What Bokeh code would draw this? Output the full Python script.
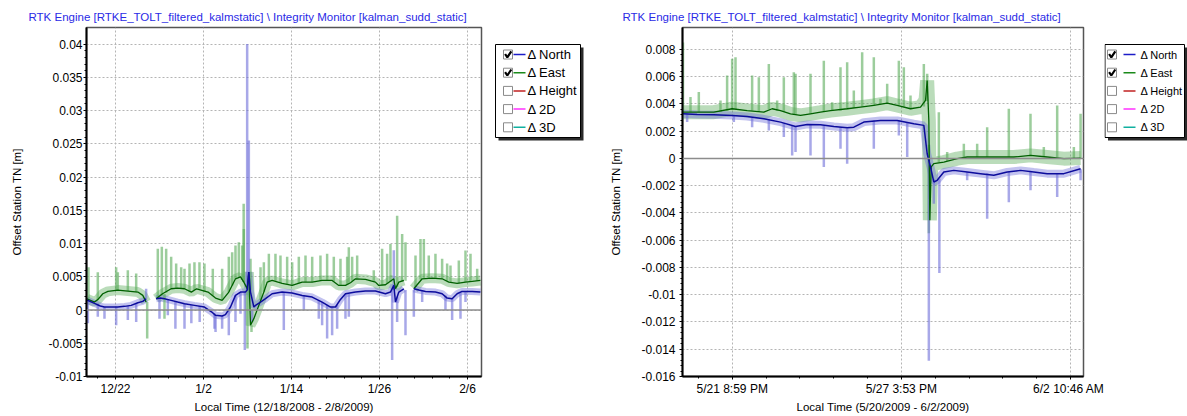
import numpy as np
from bokeh.plotting import figure
from bokeh.layouts import row
from bokeh.models import Range1d, FixedTicker, Span
from bokeh.embed import file_html
from bokeh.resources import INLINE
from bokeh.core.properties import value

nan = float("nan")

TITLE = "RTK Engine [RTKE_TOLT_filtered_kalmstatic] \\ Integrity Monitor [kalman_sudd_static]"
Y_LABEL = "Offset Station TN [m]"

# ---------------- Left chart (x = days since 12/18/2008 00:00) ----------------
L_XLABEL = "Local Time (12/18/2008 - 2/8/2009)"
L_XTICKS = [4.3, 15.9, 27.5, 39.1, 50.7]
L_XTICK_LABELS = ["12/22", "1/2", "1/14", "1/26", "2/6"]
L_YTICKS = [-0.01, -0.005, 0.0, 0.005, 0.01, 0.015, 0.02, 0.025, 0.03, 0.035, 0.04]
L_YTICK_LABELS = ["-0.01", "-0.005", "0", "0.005", "0.01", "0.015", "0.02",
                  "0.025", "0.03", "0.035", "0.04"]

L_NORTH_X = [0.55, 1.53, 2.3, 2.85, 3.7, 4.61, 5.5, 6.37, 7.25, 7.9, 8.34, 8.9,
             9.66, 10.2, 10.76, 11.64, 12.5, 13.4, 14.71, 16.03, 17.0, 17.49, 18.36,
             18.8, 19.46, 20.12, 20.78, 21.44, 21.66, 21.88, 22.1, 22.54, 22.76, 23.42,
             24.08, 24.95, 26.27, 27.59, 28.91, 30.23, 31.54, 32.64, 33.3, 33.96, 34.62,
             35.94, 37.26, 38.57, 39.89, 40.55, 40.99, 41.21, 41.65, 42.31, 43.0,
             43.63, 44.29, 45.17, 46.48, 47.36, 48.02, 48.68, 49.34, 49.98, 51.32, 52.41]
L_NORTH_Y = [0.0015, 0.001, 0.0006, 0.00045, 0.00045, 0.00045, 0.00055, 0.0007, 0.0011,
             0.0013, 0.0017, nan,
             0.0017, 0.0018, 0.0017, 0.00145, 0.0012, 0.00095, 0.0007, 0.00045, -0.0003,
             -0.0008, -0.0009, -0.0007, 0.00045, 0.0022, 0.0027, 0.0027, 0.003, 0.0057,
             0.0027, 0.00045, 0.0007, 0.0012, 0.0017, 0.00245, 0.0027, 0.00255, 0.0022,
             0.00195, 0.0012, 0.00045, 0.00045, 0.0016, 0.00245, 0.0027, 0.00285, 0.00285,
             0.00245, 0.0027, 0.0037, 0.0012, 0.0027, 0.0032, nan,
             0.0032, 0.003, 0.0028, 0.0027, 0.00245, 0.0018, 0.0017, 0.00245, 0.0028,
             0.0028, 0.0027]

L_EAST_X = [0.55, 1.53, 2.0, 2.63, 3.3, 4.61, 5.93, 7.25, 7.9, 8.34, 8.9,
            9.66, 10.5, 11.64, 12.5, 13.4, 14.3, 15.0, 16.5, 17.49, 18.36, 19.24, 20.12,
            20.78, 21.22, 21.66, 21.88, 22.1, 22.54, 23.2, 23.86, 24.3, 24.95, 26.27,
            27.59, 28.91, 30.23, 31.54, 32.86, 33.74, 34.62, 35.28, 35.94, 37.26, 38.57,
            39.01, 39.89, 40.99, 41.21, 41.65, 42.31, 43.0,
            43.63, 44.73, 46.04, 47.36, 48.24, 49.34, 50.44, 51.32, 52.41]
L_EAST_Y = [0.0017, 0.0012, 0.0016, 0.00245, 0.0028, 0.003, 0.00285, 0.0027, 0.0022,
            0.0012, nan,
            0.0017, 0.00245, 0.0032, 0.0033, 0.0032, 0.0027, 0.0032, 0.0027, 0.0018,
            0.00145, 0.0027, 0.0047, 0.005, 0.0042, 0.0032, 0.0057, -0.0023, -0.0013,
            0.0007, 0.0027, 0.0042, 0.00445, 0.004, 0.0037, 0.0042, 0.0042, 0.00445,
            0.00445, 0.0037, 0.0037, 0.0041, 0.0047, 0.0046, 0.0042, 0.0037, 0.0038,
            0.0047, 0.0032, 0.0042, 0.00445, nan,
            0.0032, 0.0047, 0.0048, 0.0047, 0.0042, 0.004, 0.0042, 0.0043, 0.00445]

L_NSPIKE_X = [0.66, 1.97, 2.85, 4.39, 5.93, 7.03, 8.34, 10.1, 11.2, 12.2, 13.4, 14.3,
              15.4, 17.35, 17.49, 18.36, 19.24, 20.12, 20.78, 21.35, 21.66, 21.88, 22.32,
              26.49, 29.13, 31.1, 31.54, 32.2, 32.86, 33.52, 34.62, 35.06, 40.77, 40.99,
              41.43, 42.53, 43.63, 44.73, 47.8, 48.68, 49.78, 50.44]
L_NSPIKE_FROM = [0.0015, 0.001, 0.0005, 0.0005, 0.0006, 0.001, 0.0017, 0.0018, 0.0016,
                 0.0013, 0.001, 0.0008, 0.0006, -0.0005, -0.0008, -0.0009, 0.0, 0.0022,
                 0.0027, 0.0027, 0.003, 0.003, 0.0, 0.0027, 0.0022, 0.0015, 0.0012,
                 0.0008, 0.00045, 0.0008, 0.0024, 0.0025, 0.003, 0.003, 0.002, 0.003,
                 0.003, 0.003, 0.0022, 0.0017, 0.0027, 0.0028]
L_NSPIKE_TO = [-0.002, -0.001, -0.0013, -0.0023, -0.0015, -0.0018, 0.0032, -0.0013,
               -0.0008, -0.0028, -0.0028, -0.002, -0.0018, -0.0028, -0.0033, -0.0028,
               -0.0038, -0.0018, -0.00055, -0.006, 0.04, 0.0255, -0.0018, -0.003, 0.0,
               -0.0013, -0.0023, -0.0043, -0.0038, -0.0028, -0.0013, -0.001, -0.0075,
               0.009, -0.0018, -0.0038, -0.001, 0.0012, 0.0, -0.0015, -0.0013, 0.0012]

L_ESPIKE_X = [0.74, 1.97, 4.39, 4.61, 5.93, 7.03, 8.48, 9.88, 10.41, 10.98, 10.76,
              11.64, 12.3, 12.96, 13.4, 14.06, 14.71, 15.37, 16.03, 17.13, 18.36, 19.24,
              19.68, 20.12, 20.56, 21.0, 21.22, 21.2, 21.7, 22.1, 22.23, 23.42, 23.86,
              24.52, 25.39, 26.05, 26.93, 27.59, 28.47, 29.35, 30.23, 31.32, 32.2, 33.08,
              33.96, 34.84, 35.06, 35.5, 36.16, 38.35, 39.45, 40.11, 40.55, 41.43, 42.09,
              42.53, 43.85, 44.51, 44.95, 45.6, 46.48, 47.36, 48.02, 48.46, 49.56, 50.44,
              51.1, 51.98]
L_ESPIKE_FROM = [0.0017, 0.0016, 0.003, 0.003, 0.00285, 0.0027, 0.0012, 0.0018, 0.0022,
                 0.0026, 0.0024, 0.0032, 0.0033, 0.0033, 0.0032, 0.0028, 0.003, 0.0032,
                 0.0027, 0.0022, 0.0015, 0.0027, 0.0037, 0.0047, 0.005, 0.0045, 0.0042,
                 0.0042, 0.0032, 0.003, -0.0023, 0.0015, 0.0027, 0.0043, 0.0044, 0.0041,
                 0.0039, 0.0037, 0.004, 0.0042, 0.0042, 0.0044, 0.0045, 0.0043, 0.0037,
                 0.0038, 0.0041, 0.0044, 0.0047, 0.0042, 0.0037, 0.0039, 0.0042, 0.0035,
                 0.0042, 0.0044, 0.0035, 0.0046, 0.0047, 0.0048, 0.0048, 0.0047, 0.0044,
                 0.0042, 0.004, 0.0042, 0.0043, 0.0044]
L_ESPIKE_TO = [0.00645, 0.0057, 0.00645, 0.0057, 0.006, 0.0055, -0.0043, 0.0092, 0.0095,
               0.0092, -0.0013, 0.008, 0.007, 0.00645, 0.0062, 0.007, 0.0072, 0.0072,
               0.007, 0.0062, 0.0062, 0.008, 0.0087, 0.0097, 0.0102, 0.0097, 0.0122,
               0.016, -0.0058, 0.0077, -0.0033, 0.00645, 0.0072, 0.00845, 0.00845, 0.0082,
               0.008, 0.0072, 0.008, 0.0082, 0.008, 0.0082, 0.00845, 0.008, 0.0077, 0.008,
               0.00945, 0.008, 0.0082, 0.006, 0.0092, 0.00845, 0.00995, 0.0142, 0.01145,
               0.0102, 0.0082, 0.0107, 0.0107, 0.0082, 0.00845, 0.0077, 0.007, 0.0067,
               0.00745, 0.00895, 0.00845, 0.0062]

# ---------------- Right chart (x = days since 5/20/2009 00:00) ----------------
R_XLABEL = "Local Time (5/20/2009 - 6/2/2009)"
R_XTICKS = [1.874, 7.662, 13.449]
R_XTICK_LABELS = ["5/21 8:59 PM", "5/27 3:53 PM", "6/2 10:46 AM"]
R_YTICKS = [-0.016, -0.014, -0.012, -0.01, -0.008, -0.006, -0.004, -0.002, 0.0,
            0.002, 0.004, 0.006, 0.008]
R_YTICK_LABELS = ["-0.016", "-0.014", "-0.012", "-0.01", "-0.008", "-0.006", "-0.004",
                  "-0.002", "0", "0.002", "0.004", "0.006", "0.008"]

R_NORTH_X = [0.18, 0.675, 1.245, 1.872, 2.385, 2.956, 3.526, 4.04, 4.44, 4.894, 5.35,
             5.806, 6.034, 6.376, 6.946, 7.517, 8.087, 8.429, 8.543, 8.657, 8.77, 8.885,
             9.113, 9.455, 9.911, 10.367, 10.823, 11.28, 11.735, 12.19, 12.647, 13.218,
             13.79]
R_NORTH_Y = [0.00327, 0.00322, 0.0032, 0.00315, 0.00307, 0.0029, 0.00266, 0.00234,
             0.00249, 0.00246, 0.00234, 0.00224, 0.00229, 0.00266, 0.00278, 0.00278,
             0.00254, 0.00242, 0.00034, -0.00063, -0.00173, -0.00161, -0.001, -0.00088,
             -0.001, -0.00112, -0.00124, -0.001, -0.00088, -0.001, -0.00112, -0.00112,
             -0.00076]

R_EAST_X = [0.18, 0.675, 1.245, 1.872, 2.385, 2.956, 3.24, 3.526, 3.868, 4.21, 4.55,
            4.894, 5.236, 5.806, 6.262, 6.718, 7.175, 7.517, 7.973, 8.315, 8.486, 8.543,
            8.6, 8.634, 8.68, 8.77, 9.113, 9.569, 9.911, 10.367, 10.937, 11.507, 12.077,
            12.647, 13.218, 13.79]
R_EAST_Y = [0.00339, 0.00339, 0.00339, 0.00364, 0.00351, 0.00339, 0.00364, 0.00351,
            0.00327, 0.00315, 0.00327, 0.00339, 0.00351, 0.00364, 0.00376, 0.00388,
            0.00405, 0.00388, 0.00364, 0.00376, 0.00425, 0.00571, 0.00278, -0.00454,
            -0.00063, -0.00039, -0.00027, -0.00002, 0.0001, 0.0001, 0.0001, 0.0001,
            0.00022, 0.0001, -0.00002, 0.00002]

R_NSPIKE_X = [0.333, 1.93, 2.556, 3.127, 3.64, 3.925, 4.04, 4.552, 5.008, 5.578, 5.806,
              6.718, 7.574, 7.86, 8.6, 8.77, 8.96, 9.911, 10.595, 11.336, 12.077, 12.99,
              13.79]
R_NSPIKE_FROM = [0.0033, 0.0031, 0.003, 0.0029, 0.0026, 0.0024, 0.0023, 0.0025, 0.0024,
                 0.0023, 0.0022, 0.0028, 0.0028, 0.0026, 0.0, -0.0015, -0.0015, -0.001,
                 -0.0011, -0.001, -0.0009, -0.0011, -0.0008]
R_NSPIKE_TO = [0.00266, 0.00266, 0.00229, 0.00205, 0.00156, 0.00022, 0.00046, 0.00022,
               -0.00063, 0.00071, -0.00039, 0.00071, 0.00168, 0.0001, -0.01485, -0.00332,
               -0.0084, -0.00161, -0.00442, -0.00322, -0.00234, -0.00283, -0.00161]

R_ESPIKE_X = [0.19, 0.447, 0.732, 1.473, 1.7, 1.872, 1.987, 2.556, 2.785, 3.127, 3.412,
              3.64, 3.982, 4.04, 4.552, 5.008, 5.293, 5.578, 5.806, 6.034, 6.319, 6.718,
              6.946, 7.175, 7.574, 7.745, 7.973, 8.429, 8.543, 8.6, 8.942, 9.227, 9.797,
              10.253, 10.595, 11.336, 12.077, 12.533, 12.99, 13.56, 13.79]
R_ESPIKE_FROM = [0.0034, 0.0034, 0.0034, 0.0034, 0.0035, 0.0036, 0.0036, 0.0035, 0.0034,
                 0.0036, 0.0035, 0.0034, 0.0032, 0.0032, 0.0033, 0.0034, 0.0035, 0.0035,
                 0.0036, 0.0037, 0.0038, 0.0039, 0.004, 0.004, 0.0039, 0.0038, 0.0036,
                 0.0038, 0.0042, 0.001, -0.0003, -0.0002, 0.0, 0.0001, 0.0001, 0.0001,
                 0.0002, 0.0001, 0.0001, 0.0, 0.0]
R_ESPIKE_TO = [0.0085, 0.0045, 0.00486, 0.00425, 0.00608, 0.0073, 0.00742, 0.00608,
               0.00595, 0.00693, 0.00425, 0.00595, 0.00632, 0.0062, 0.0062, 0.00717,
               0.00412, 0.00669, 0.00705, 0.00498, 0.00778, 0.00742, 0.00437, 0.00547,
               0.00717, 0.00669, 0.00461, 0.00693, 0.0062, -0.0055, 0.00339, 0.00046,
               0.00107, 0.00107, 0.00229, 0.00364, 0.00327, 0.00083, 0.00388, 0.00083,
               0.00327]

# ---------------- Legend ----------------
LEGEND_NAMES = ["\u0394 North", "\u0394 East", "\u0394 Height", "\u0394 2D", "\u0394 3D"]
LEGEND_COLORS = ["#1c1cc8", "#1a8a1a", "#c02020", "#ff30ff", "#10b0a0"]
LEGEND_CHECKED = [True, True, False, False, False]

FONT = "Liberation Sans"
N_RAW, E_RAW = "#6e6ed8", "#5aab5a"
N_LINE, E_LINE = "#0c0c9c", "#006000"
H = 416
FRAME_TOP, FRAME_BOTTOM = 27, 376   # page pixels of the plot frames


def make_main(width, bl, br, xr, yr, xt, xl, xstep, yt, yl, ystep, xlabel,
              title_offset, ylab_standoff, ytick_standoff):
    p = figure(width=width, height=H, x_range=Range1d(*xr), y_range=Range1d(*yr),
               output_backend="svg", toolbar_location=None,
               min_border_left=bl, min_border_right=br, min_border_top=FRAME_TOP,
               min_border_bottom=H - FRAME_BOTTOM, title=TITLE)
    p.title.text_font = FONT
    p.title.text_font_size = "11.5px"
    p.title.text_font_style = "normal"
    p.title.text_color = "#2a2ae6"
    p.title.align = "left"
    p.title.offset = title_offset
    p.title.standoff = 10

    xminor = list(np.arange(xt[0] - 5 * xstep, xr[1], xstep))
    yminor = list(np.arange(yt[0], yt[-1] + ystep / 2, ystep))
    xtk = FixedTicker(ticks=xt, minor_ticks=xminor)
    ytk = FixedTicker(ticks=yt, minor_ticks=yminor)
    p.xaxis.ticker = xtk
    p.yaxis.ticker = ytk
    p.xgrid.ticker = xtk
    p.ygrid.ticker = ytk
    p.xaxis.major_label_overrides = dict(zip(xt, xl))
    p.yaxis.major_label_overrides = dict(zip(yt, yl))
    for ax in (p.xaxis[0], p.yaxis[0]):
        ax.axis_line_width = 2
        ax.axis_line_color = "black"
        ax.major_tick_line_color = "black"
        ax.minor_tick_line_color = "black"
        ax.major_tick_in = 0
        ax.major_tick_out = 3
        ax.minor_tick_in = 0
        ax.minor_tick_out = 2
        ax.major_label_text_font = FONT
        ax.major_label_text_font_size = "12px"
        ax.major_label_text_color = "black"
        ax.axis_label_text_font = FONT
        ax.axis_label_text_font_size = "11.5px"
        ax.axis_label_text_font_style = "normal"
        ax.axis_label_text_color = "black"
    p.xaxis.axis_label = xlabel
    p.yaxis.axis_label = Y_LABEL
    p.xaxis.major_label_standoff = 2
    p.xaxis.axis_label_standoff = 2
    p.yaxis.major_label_standoff = ytick_standoff
    p.yaxis.axis_label_standoff = ylab_standoff
    p.grid.grid_line_color = "#b4b4b4"
    p.grid.grid_line_dash = "2 2"
    p.grid.grid_line_width = 1
    p.outline_line_color = "#555555"
    p.outline_line_width = 1.5
    p.background_fill_color = "white"
    p.border_fill_color = "white"
    p.add_layout(Span(location=0, dimension="width", line_color="#8c8c8c", line_width=1.5))
    return p


def draw_series(p, nx, ny, ex, ey, nsx, nsf, nst, esx, esf, est, nband, eband):
    p.line(ex, ey, line_color=E_RAW, line_width=eband, line_alpha=0.42)
    p.line(nx, ny, line_color=N_RAW, line_width=nband, line_alpha=0.42)
    p.segment(esx, esf, esx, est, line_color=E_RAW, line_width=2.5, line_alpha=0.6)
    p.segment(nsx, nsf, nsx, nst, line_color=N_RAW, line_width=2.5, line_alpha=0.6)
    p.line(ex, ey, line_color=E_LINE, line_width=1.3)
    p.line(nx, ny, line_color=N_LINE, line_width=1.5)


def make_legend(width, box_l, box_r, check_x, lx0, lx1, tx, fsize):
    # the frame of this figure is aligned with its neighbours (page y 27..376),
    # so the y range is expressed directly in page pixels
    p = figure(width=width, height=H, x_range=Range1d(0, width),
               y_range=Range1d(FRAME_BOTTOM, FRAME_TOP),
               output_backend="svg", toolbar_location=None, min_border=0,
               x_axis_location=None, y_axis_location=None)
    p.grid.visible = False
    p.outline_line_color = None
    p.background_fill_color = "white"
    p.border_fill_color = "white"
    top, bottom = 44, 137
    p.quad(left=[box_l + 3], right=[box_r + 3], top=[top + 3], bottom=[bottom + 3],
           fill_color="#2a2a2a", line_color=None)
    p.quad(left=[box_l], right=[box_r], top=[top], bottom=[bottom],
           fill_color="white", line_color="black", line_width=1)
    ys = [54 + 18.2 * i for i in range(len(LEGEND_NAMES))]
    p.quad(left=[check_x] * len(ys), right=[check_x + 9] * len(ys),
           top=[y - 4.5 for y in ys], bottom=[y + 4.5 for y in ys],
           fill_color="white", line_color="#8a8a8a", line_width=1)
    cx, cy = [], []
    for y, c in zip(ys, LEGEND_CHECKED):
        if c:
            cx.append([check_x + 1.6, check_x + 3.8, check_x + 7.8])
            cy.append([y - 0.5, y + 2.8, y - 3.2])
    p.multi_line(cx, cy, line_color="black", line_width=2.2)
    p.segment([lx0] * len(ys), ys, [lx1] * len(ys), ys, line_color=LEGEND_COLORS,
              line_width=1.5)
    p.text([tx] * len(ys), ys, text=LEGEND_NAMES, text_font=value(FONT),
           text_font_size=fsize, text_baseline="middle", text_align="left",
           text_color="black")
    return p


left = make_main(490, 86, 9, (0.48, 52.55), (-0.01, 0.0425), L_XTICKS, L_XTICK_LABELS,
                 2.32, L_YTICKS, L_YTICK_LABELS, 0.001, L_XLABEL, -58, 22, 1)
draw_series(left, L_NORTH_X, L_NORTH_Y, L_EAST_X, L_EAST_Y,
            L_NSPIKE_X, L_NSPIKE_FROM, L_NSPIKE_TO, L_ESPIKE_X, L_ESPIKE_FROM, L_ESPIKE_TO,
            7, 10)
left_leg = make_legend(110, 5, 90, 13, 23, 35, 37, "13px")

right = make_main(504, 82, 21, (0.174, 13.89), (-0.016, 0.0096), R_XTICKS, R_XTICK_LABELS,
                  1.1575, R_YTICKS, R_YTICK_LABELS, 0.0004, R_XLABEL, -60, 16, 4)
draw_series(right, R_NORTH_X, R_NORTH_Y, R_EAST_X, R_EAST_Y,
            R_NSPIKE_X, R_NSPIKE_FROM, R_NSPIKE_TO, R_ESPIKE_X, R_ESPIKE_FROM, R_ESPIKE_TO,
            8, 14)
right_leg = make_legend(83, 0.5, 80, 3, 19, 31, 36, "11px")

layout = row(left, left_leg, right, right_leg)
open("out.html", "w").write(file_html(layout, INLINE))
